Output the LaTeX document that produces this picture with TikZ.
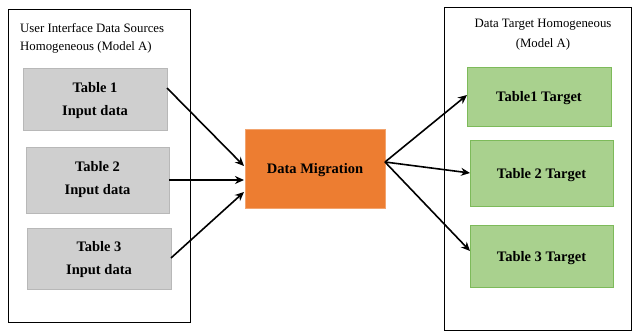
\documentclass[tikz,border=0pt]{standalone}
\usepackage{fontspec}
\setmainfont{Liberation Serif}
\usetikzlibrary{arrows.meta}
\definecolor{grayfill}{HTML}{CFCFCF}
\definecolor{grayedge}{HTML}{B8B8B8}
\definecolor{greenfill}{HTML}{A9D18E}
\definecolor{greenedge}{HTML}{7DBA5A}
\definecolor{orangefill}{HTML}{ED7D31}
\tikzset{
  container/.style={draw=black, line width=0.8pt},
  srcbox/.style={draw=grayedge, fill=grayfill, line width=0.6pt},
  tgtbox/.style={draw=greenedge, fill=greenfill, line width=0.6pt},
  migbox/.style={fill=orangefill, draw=orangefill!70!white},
  boxtext/.style={font=\bfseries\fontsize{14.5}{23}\selectfont, align=center, inner sep=0pt},
  titletext/.style={font=\fontsize{12.8}{19}\selectfont, inner sep=0pt},
  conn/.style={-{Stealth[length=9pt,width=8pt]}, line width=1.6pt, black}
}
\begin{document}
\begin{tikzpicture}[x=1pt,y=-1pt]
\useasboundingbox (0,0) rectangle (634,332);
% containers
\draw[container] (8,9) rectangle (190,322);
\draw[container] (444,7) rectangle (631,330);
% titles
\node[titletext, anchor=west] (t1) at (20,28) {User Interface Data Sources};
\node[titletext, anchor=west] (t2) at (20,47) {Homogeneous (Model A)};
\node[titletext] (t3) at (543,25) {Data Target Homogeneous};
\node[titletext] (t4) at (543,44) {(Model A)};
% source boxes
\path[srcbox] (23,68) rectangle (167,130);
\node[boxtext] (s1) at (95,101) {Table 1\\Input data};
\path[srcbox] (26,147) rectangle (169,213);
\node[boxtext] (s2) at (97.5,180) {Table 2\\Input data};
\path[srcbox] (27,228) rectangle (171,289);
\node[boxtext] (s3) at (99,260) {Table 3\\Input data};
\coordinate (s1e) at (167,88);
\coordinate (s2e) at (169,180);
\coordinate (s3e) at (171,258);
% migration
\path[migbox] (245,129) rectangle (385,208);
\node[boxtext] (dm) at (315,170.5) {Data Migration};
% targets
\path[tgtbox] (467,67) rectangle (611,126);
\node[boxtext] (g1) at (539,98.5) {Table1 Target};
\path[tgtbox] (470,140) rectangle (613,206);
\node[boxtext] (g2) at (541.5,175) {Table 2 Target};
\path[tgtbox] (470,225) rectangle (613,287);
\node[boxtext] (g3) at (541.5,258.5) {Table 3 Target};
% connector ends
\coordinate (dmin1) at (244,166);
\coordinate (dmin2) at (244,180);
\coordinate (dmin3) at (244,192);
\coordinate (dmout) at (385,162);
\coordinate (g1w) at (467,95);
\coordinate (g2w) at (470,173);
\coordinate (g3w) at (470,251);
\draw[conn] (s1e) -- (dmin1);
\draw[conn] (s2e) -- (dmin2);
\draw[conn] (s3e) -- (dmin3);
\draw[conn] (dmout) -- (g1w);
\draw[conn] (dmout) -- (g2w);
\draw[conn] (dmout) -- (g3w);
\end{tikzpicture}
\end{document}
